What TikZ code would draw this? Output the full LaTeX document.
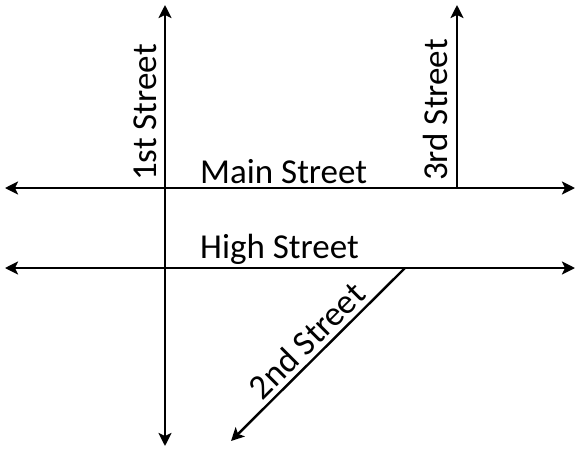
\documentclass[tikz,border=0pt]{standalone}
\usepackage{fontspec}
\setmainfont{Carlito}
\usetikzlibrary{arrows.meta}
\begin{document}
\begin{tikzpicture}[x=1pt,y=-1pt,
  road/.style={line width=2.4pt,-{Stealth[length=13pt,width=13pt,inset=3pt]}},
  roadboth/.style={line width=2.4pt,{Stealth[length=13pt,width=13pt,inset=3pt]}-{Stealth[length=13pt,width=13pt,inset=3pt]}},
  lbl/.style={font=\fontsize{35}{37}\selectfont,inner sep=0pt}]
\useasboundingbox (0,0) rectangle (579,451);
\coordinate (f1) at (165,5);
\coordinate (f2) at (165,446);
\coordinate (m1) at (5,188);
\coordinate (m2) at (575,188);
\coordinate (h1) at (5,268);
\coordinate (h2) at (575,268);
\coordinate (t1) at (457,188);
\coordinate (t2) at (457,5);
\coordinate (s1) at (405,268);
\coordinate (s2) at (231,441);
\draw[roadboth] (f1) -- (f2);
\draw[roadboth] (m1) -- (m2);
\draw[roadboth] (h1) -- (h2);
\draw[road] (t1) -- (t2);
\draw[road] (s1) -- (s2);
\node[lbl,rotate=90,anchor=base west] (n1) at (156,181) {1st Street};
\node[lbl,rotate=90,anchor=base west] (n3) at (447,181) {3rd Street};
\node[lbl,anchor=base west] (nm) at (200,183) {Main Street};
\node[lbl,anchor=base west] (nh) at (200,258) {High Street};
\node[lbl,rotate=45,anchor=base] (n2) at (315,349) {2nd Street};
\end{tikzpicture}
\end{document}
